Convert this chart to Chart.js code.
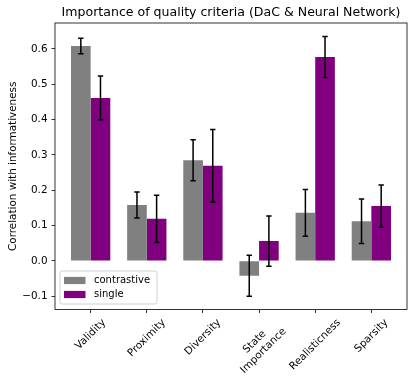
<!DOCTYPE html>
<html>
<head>
<meta charset="utf-8">
<script src="https://cdn.jsdelivr.net/npm/chart.js@4/dist/chart.umd.min.js"></script>
<style>
html,body{margin:0;padding:0;background:#fff;}
#wrap{width:416px;height:386px;}
</style>
</head>
<body>
<div id="wrap"><canvas id="c" width="416" height="386"></canvas></div>
<script>
// ---- data ----
const categories = ["Validity", "Proximity", "Diversity", ["State", "Importance"], "Realisticness", "Sparsity"];
const seriesNames = ["contrastive", "single"];
const contrastive = [0.608, 0.158, 0.285, -0.042, 0.136, 0.112];
const contrastiveErr = [0.022, 0.037, 0.058, 0.058, 0.066, 0.063];
const single = [0.461, 0.119, 0.269, 0.056, 0.577, 0.155];
const singleErr = [0.062, 0.067, 0.103, 0.071, 0.058, 0.060];
const yTicks = [-0.1, 0.0, 0.1, 0.2, 0.3, 0.4, 0.5, 0.6];
const titleText = "Importance of quality criteria (DaC & Neural Network)";
const yLabel = "Correlation with informativeness";

const colors = ["#808080", "#800080"];
const FONT = "'DejaVu Sans', sans-serif";
const FS = 10.4;
const TFS = 12.55;

const toPoints = arr => arr.map((v, i) => ({x: i, y: v}));

const errorBarPlugin = {
  id: 'errorBars',
  afterDatasetsDraw(chart) {
    const ctx = chart.ctx;
    const ys = chart.scales.y;
    const errs = [contrastiveErr, singleErr];
    ctx.save();
    ctx.strokeStyle = '#000';
    ctx.lineWidth = 1.5;
    chart.data.datasets.forEach((ds, di) => {
      const meta = chart.getDatasetMeta(di);
      meta.data.forEach((el, i) => {
        const v = ds.data[i].y;
        const e = errs[di][i];
        const yt = ys.getPixelForValue(v + e);
        const yb = ys.getPixelForValue(v - e);
        const x = el.x;
        const cw = 2.7;
        ctx.beginPath();
        ctx.moveTo(x, yt); ctx.lineTo(x, yb);
        ctx.moveTo(x - cw, yt); ctx.lineTo(x + cw, yt);
        ctx.moveTo(x - cw, yb); ctx.lineTo(x + cw, yb);
        ctx.stroke();
      });
    });
    ctx.restore();
  }
};

const framePlugin = {
  id: 'frame',
  afterDraw(chart) {
    const {ctx, chartArea: a} = chart;
    ctx.save();
    ctx.strokeStyle = '#000';
    ctx.lineWidth = 0.8;
    ctx.strokeRect(a.left, a.top, a.right - a.left, a.bottom - a.top);
    // title centred over the axes
    ctx.font = TFS + "px " + FONT;
    ctx.fillStyle = '#000';
    ctx.textAlign = 'center';
    ctx.textBaseline = 'middle';
    ctx.fillText(titleText, (a.left + a.right) / 2, 13);
    ctx.restore();
  }
};

const xLabelPlugin = {
  id: 'xLabels',
  afterDraw(chart) {
    const {ctx, chartArea: a} = chart;
    const xs = chart.scales.x;
    ctx.save();
    ctx.font = FS + "px " + FONT;
    ctx.fillStyle = '#000';
    ctx.textAlign = 'center';
    ctx.textBaseline = 'middle';
    const lh = FS * 1.2;
    categories.forEach((c, i) => {
      const lines = Array.isArray(c) ? c : [c];
      const w = Math.max(...lines.map(l => ctx.measureText(l).width));
      const h = lines.length * lh;
      const side = (w + h) / Math.SQRT2;
      const px = xs.getPixelForValue(i);
      const cy = a.bottom + 7 + side / 2;
      ctx.save();
      ctx.translate(px, cy);
      ctx.rotate(-Math.PI / 4);
      lines.forEach((l, k) => {
        ctx.fillText(l, 0, (k - (lines.length - 1) / 2) * lh);
      });
      ctx.restore();
    });
    ctx.restore();
  }
};

const legendPlugin = {
  id: 'innerLegend',
  afterDraw(chart) {
    const {ctx, chartArea: a} = chart;
    const bx = a.left + 5, bw = 97, bh = 33, by = a.bottom - 5.5 - bh;
    ctx.save();
    ctx.fillStyle = 'rgba(255,255,255,0.8)';
    ctx.strokeStyle = '#d0d0d0';
    ctx.lineWidth = 1;
    ctx.beginPath();
    ctx.roundRect(bx, by, bw, bh, 2.5);
    ctx.fill(); ctx.stroke();
    ctx.font = "10px " + FONT;
    ctx.textBaseline = 'middle';
    ctx.textAlign = 'left';
    seriesNames.forEach((n, k) => {
      const cy = by + 9.5 + k * 14;
      ctx.fillStyle = colors[k];
      ctx.fillRect(bx + 4, cy - 3.6, 21.5, 7.2);
      ctx.fillStyle = '#000';
      ctx.fillText(n, bx + 34, cy);
    });
    ctx.restore();
  }
};

new Chart(document.getElementById('c'), {
  type: 'bar',
  data: {
    datasets: [
      {label: seriesNames[0], data: toPoints(contrastive), backgroundColor: colors[0], borderWidth: 0},
      {label: seriesNames[1], data: toPoints(single), backgroundColor: colors[1], borderWidth: 0}
    ]
  },
  options: {
    responsive: false,
    animation: false,
    devicePixelRatio: 1,
    layout: {padding: {left: 0, right: 9, top: 23, bottom: 0}},
    datasets: {bar: {categoryPercentage: 0.7, barPercentage: 1.0}},
    plugins: {
      legend: {display: false},
      tooltip: {enabled: false},
      title: {display: false}
    },
    scales: {
      x: {
        type: 'linear', min: -0.635, max: 5.635, offset: false,
        afterBuildTicks(s) { s.ticks = categories.map((c, i) => ({value: i})); },
        afterFit(s) { s.height = 386 - 309.5; },
        ticks: {display: false},
        grid: {display: true, offset: false, drawOnChartArea: false, drawTicks: true, tickLength: 3.5, color: '#000', lineWidth: 0.8},
        border: {display: false}
      },
      y: {
        min: -0.1376, max: 0.673,
        afterBuildTicks(s) { s.ticks = yTicks.map(v => ({value: v})); },
        afterFit(s) { s.width = 55; },
        ticks: {
          color: '#000', padding: 4,
          font: {family: FONT, size: FS},
          callback: v => v.toFixed(1).replace('-', '\u2212')
        },
        grid: {display: true, drawOnChartArea: false, drawTicks: true, tickLength: 3.5, color: '#000', lineWidth: 0.8},
        border: {display: false},
        title: {
          display: true, text: yLabel, color: '#000',
          font: {family: FONT, size: FS}, padding: {top: 6.8, bottom: 0}
        }
      }
    }
  },
  plugins: [errorBarPlugin, framePlugin, xLabelPlugin, legendPlugin]
});
</script>
</body>
</html>
